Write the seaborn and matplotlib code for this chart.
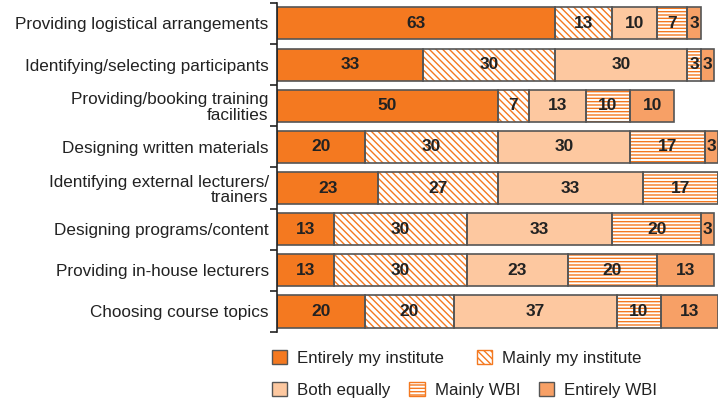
import numpy as np
import pandas as pd
import matplotlib
matplotlib.use("Agg")
import matplotlib.pyplot as plt
from matplotlib.patches import Patch
import seaborn as sns

# ------------------------------
# Data
# ------------------------------
tasks = [
    "Providing logistical arrangements",
    "Identifying/selecting participants",
    "Providing/booking training\nfacilities",
    "Designing written materials",
    "Identifying external lecturers/\ntrainers",
    "Designing programs/content",
    "Providing in-house lecturers",
    "Choosing course topics",
]
entirely_mine = [63, 33, 50, 20, 23, 13, 13, 20]
mainly_mine = [13, 30, 7, 30, 27, 30, 30, 20]
both_equally = [10, 30, 13, 30, 33, 33, 23, 37]
mainly_wbi = [7, 3, 10, 17, 17, 20, 20, 10]
entirely_wbi = [3, 3, 10, 3, 0, 3, 13, 13]

series_names = ["Entirely my institute", "Mainly my institute", "Both equally",
                "Mainly WBI", "Entirely WBI"]
series_vals = [entirely_mine, mainly_mine, both_equally, mainly_wbi, entirely_wbi]

# ------------------------------
# Styling
# ------------------------------
ORANGE = "#F47920"
PEACH = "#FDC8A0"
MID = "#F7A066"
EDGE = "#555555"
FONT = ["Liberation Sans", "DejaVu Sans"]
styles = [
    dict(color=ORANGE, hatch=None),
    dict(color="white", hatch="\\" * 5),
    dict(color=PEACH, hatch=None),
    dict(color="white", hatch="-" * 5),
    dict(color=MID, hatch=None),
]

sns.set_theme(style="white")
plt.rcParams["font.family"] = FONT
plt.rcParams["hatch.linewidth"] = 1.0

fig = plt.figure(figsize=(7.26, 4.03), dpi=100)
ax = fig.add_axes([0.3815, 0.176, 0.608, 0.817])

# stacked bars: draw cumulative totals from the back to the front
cum = np.cumsum(np.array(series_vals), axis=0)
for i in range(len(series_names) - 1, -1, -1):
    df = pd.DataFrame({"task": tasks, "value": cum[i]})
    n_before = len(ax.patches)
    sns.barplot(data=df, y="task", x="value", orient="h", ax=ax,
                color=styles[i]["color"], width=0.78, saturation=1,
                linewidth=0, edgecolor=ORANGE)
    for p in ax.patches[n_before:]:
        p.set_facecolor(styles[i]["color"])
        if styles[i]["hatch"]:
            p.set_hatch(styles[i]["hatch"])
            p.set_edgecolor(ORANGE)
            p.set_linewidth(0)

# outlines of each segment + value labels
for i in range(len(series_names)):
    left = cum[i] - np.array(series_vals[i])
    ax.barh(np.arange(len(tasks)), series_vals[i], left=left, height=0.78,
            fill=False, edgecolor=EDGE, linewidth=1.2)
    for j, v in enumerate(series_vals[i]):
        if v > 0:
            ax.text(left[j] + v / 2, j, str(v), ha="center", va="center",
                    fontsize=12.5, fontweight="bold", color="#222222")

ax.set_xlim(0, 100)
ax.set_ylim(len(tasks) - 0.5, -0.5)
ax.set_xlabel("")
ax.set_ylabel("")
ax.set_xticks([])
ax.set_yticks(np.arange(len(tasks)))
ax.set_yticklabels(tasks, fontsize=12.3, color="#222222", linespacing=1.05)
ax.set_yticks(np.arange(-0.5, len(tasks)), minor=True)
ax.tick_params(axis="y", which="major", length=0, pad=6)
ax.tick_params(axis="y", which="minor", length=5, width=1.2, color="#222222", left=True)
for s in ["top", "right", "bottom"]:
    ax.spines[s].set_visible(False)
ax.spines["left"].set_color("#222222")
ax.spines["left"].set_linewidth(1.2)

handles = []
for name, st in zip(series_names, styles):
    handles.append(Patch(facecolor=st["color"], edgecolor=ORANGE if st["hatch"] else EDGE,
                         hatch=st["hatch"], linewidth=1.0, label=name))

leg_kw = dict(frameon=False, fontsize=12.2, handlelength=0.9, handleheight=0.9,
              handletextpad=0.6, borderpad=0, labelcolor="#222222")
fig.legend(handles=handles[:2], loc="center", ncol=2, columnspacing=1.9,
           bbox_to_anchor=(0.629, 0.112), **leg_kw)
fig.legend(handles=handles[2:], loc="center", ncol=3, columnspacing=1.1,
           bbox_to_anchor=(0.640, 0.032), **leg_kw)

fig.savefig("out.png", dpi=100)
plt.close(fig)
